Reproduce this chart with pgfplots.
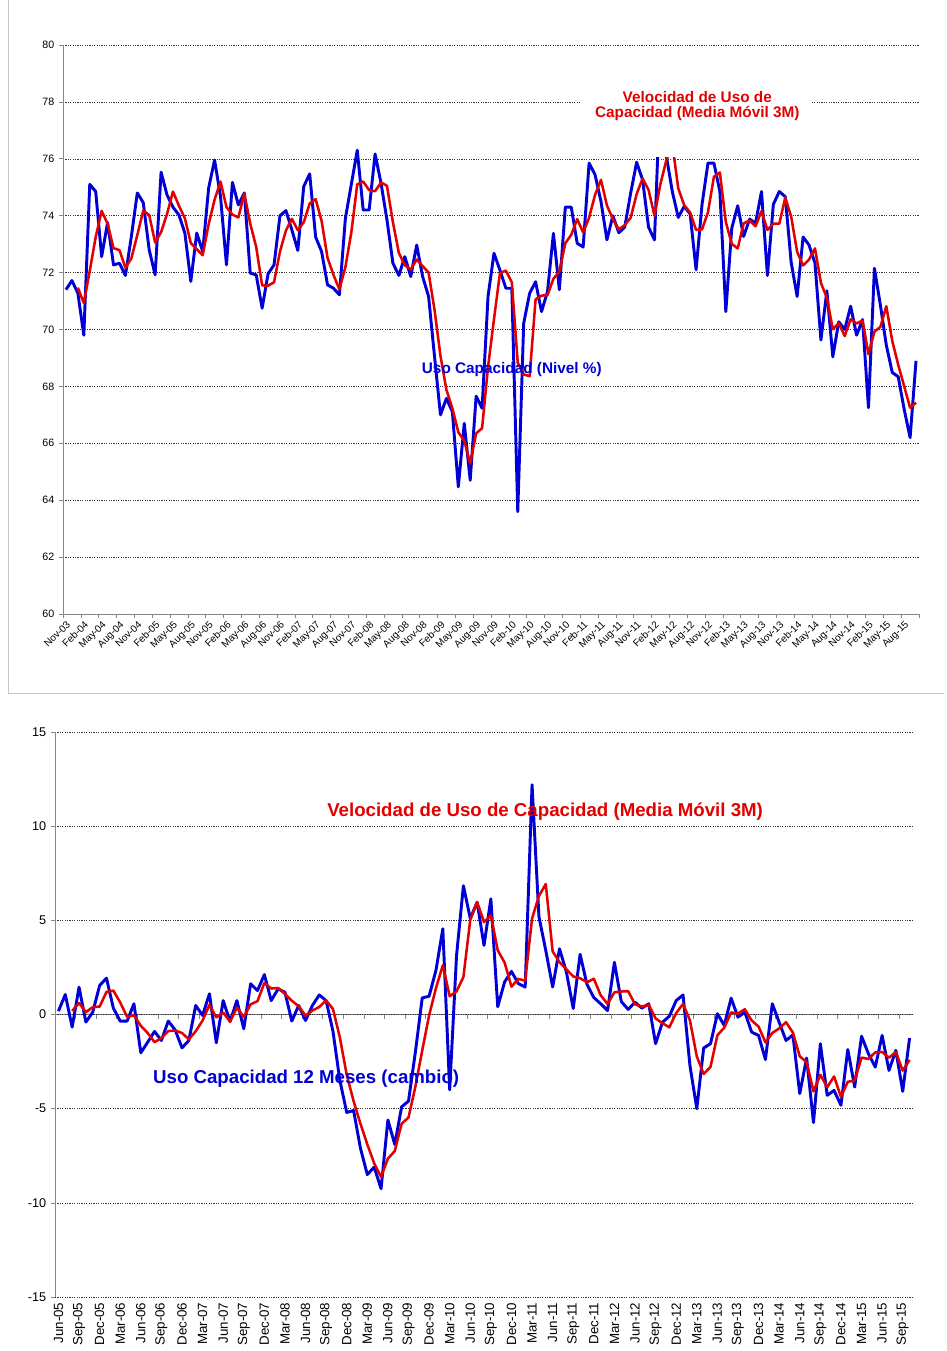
\documentclass[border=0pt]{standalone}
\usepackage{fontspec}
\setmainfont{Liberation Sans}
\usepackage{pgfplots}
\usepackage{pgfplotstable}
\pgfplotsset{compat=1.18}

\definecolor{azul}{RGB}{0,0,214}
\definecolor{rojo}{RGB}{226,0,0}
\definecolor{eje}{RGB}{134,134,134}

% uso capacidad (nivel %), nov-03 .. oct-15 ; media movil 3M
\pgfplotstableread{
uso vel
71.40 nan
71.72 nan
71.28 71.47
69.80 70.93
75.10 72.06
74.85 73.25
72.56 74.17
73.76 73.72
72.27 72.86
72.33 72.79
71.90 72.17
73.27 72.50
74.80 73.32
74.46 74.18
72.80 74.02
71.92 73.06
75.53 73.42
74.73 74.06
74.30 74.85
74.03 74.35
73.39 73.91
71.69 73.04
73.39 72.82
72.74 72.61
74.97 73.70
75.96 74.56
74.67 75.20
72.27 74.30
75.17 74.04
74.38 73.94
74.80 74.78
71.98 73.72
71.92 72.90
70.75 71.55
71.96 71.54
72.27 71.66
74.00 72.74
74.18 73.48
73.50 73.89
72.78 73.49
75.03 73.77
75.47 74.43
73.25 74.58
72.74 73.82
71.57 72.52
71.45 71.92
71.22 71.41
73.90 72.19
75.10 73.41
76.30 75.10
74.20 75.20
74.20 74.90
76.17 74.86
75.14 75.17
73.85 75.05
72.33 73.77
71.90 72.69
72.56 72.26
71.86 72.11
72.97 72.46
71.86 72.23
71.16 72.00
69.05 70.69
67.00 69.07
67.58 67.88
67.11 67.23
64.47 66.39
66.70 66.09
64.70 65.29
67.66 66.35
67.23 66.53
71.16 68.68
72.68 70.36
72.09 71.98
71.45 72.07
71.45 71.66
63.60 68.83
70.22 68.42
71.27 68.36
71.68 71.06
70.63 71.19
71.33 71.21
73.38 71.78
71.40 72.04
74.30 73.03
74.30 73.33
73.03 73.88
72.90 73.41
75.85 73.93
75.44 74.73
74.50 75.26
73.15 74.36
74.00 73.88
73.40 73.52
73.60 73.67
74.80 73.93
75.88 74.76
75.26 75.31
73.60 74.91
73.15 74.00
78.60 75.12
76.10 75.95
74.85 76.52
73.94 74.96
74.33 74.37
74.06 74.11
72.10 73.50
74.40 73.52
75.85 74.12
75.85 75.37
74.85 75.52
70.63 73.78
73.56 73.01
74.35 72.85
73.27 73.73
73.88 73.83
73.74 73.63
74.85 74.16
71.90 73.50
74.40 73.72
74.85 73.72
74.67 74.64
72.35 73.96
71.16 72.73
73.25 72.25
72.97 72.46
72.33 72.85
69.63 71.64
71.36 71.11
69.04 70.01
70.27 70.22
70.00 69.77
70.82 70.36
69.80 70.21
70.35 70.32
67.25 69.13
72.15 69.92
70.86 70.09
69.45 70.82
68.49 69.60
68.34 68.76
67.20 68.01
66.20 67.25
68.90 67.43
}\nivel

% cambio 12 meses, jun-05 .. oct-15 ; media movil 3M
\pgfplotstableread{
chg vel
0.18 nan
1.06 nan
-0.67 0.19
1.45 0.61
-0.40 0.13
0.12 0.39
1.54 0.42
1.93 1.20
0.34 1.27
-0.35 0.64
-0.35 -0.12
0.57 -0.04
-2.03 -0.60
-1.47 -0.98
-0.90 -1.47
-1.38 -1.25
-0.35 -0.88
-0.81 -0.85
-1.77 -0.98
-1.38 -1.32
0.48 -0.89
-0.05 -0.32
1.10 0.51
-1.50 -0.15
0.74 0.11
-0.37 -0.38
0.74 0.37
-0.76 -0.13
1.63 0.54
1.27 0.71
2.12 1.67
0.74 1.38
1.36 1.41
1.18 1.09
-0.35 0.73
0.48 0.44
-0.32 -0.06
0.48 0.21
1.04 0.40
0.74 0.75
-0.90 0.29
-3.50 -1.22
-5.20 -3.20
-5.10 -4.60
-7.10 -5.80
-8.50 -6.90
-8.10 -7.90
-9.25 -8.62
-5.60 -7.65
-6.90 -7.25
-4.90 -5.80
-4.60 -5.47
-2.00 -3.83
0.88 -1.91
0.97 -0.05
2.35 1.40
4.55 2.62
-4.00 0.97
3.14 1.23
6.84 1.99
5.10 5.03
5.96 5.97
3.67 4.91
6.14 5.26
0.41 3.41
1.73 2.76
2.29 1.48
1.64 1.89
1.46 1.80
12.20 5.10
5.20 6.29
3.40 6.93
1.46 3.35
3.49 2.78
2.26 2.40
0.32 2.02
3.20 1.93
1.60 1.71
0.90 1.90
0.57 1.02
0.21 0.56
2.77 1.18
0.69 1.22
0.27 1.24
0.65 0.54
0.34 0.42
0.57 0.52
-1.55 -0.21
-0.41 -0.46
-0.09 -0.68
0.74 0.08
1.04 0.56
-2.70 -0.31
-5.00 -2.22
-1.78 -3.16
-1.55 -2.78
0.04 -1.10
-0.58 -0.70
0.87 0.11
-0.14 0.05
0.12 0.28
-0.94 -0.32
-1.11 -0.64
-2.39 -1.48
0.57 -0.98
-0.41 -0.74
-1.38 -0.41
-1.08 -0.96
-4.20 -2.22
-2.31 -2.53
-5.74 -4.08
-1.55 -3.20
-4.29 -3.86
-4.03 -3.29
-4.82 -4.38
-1.86 -3.57
-3.85 -3.51
-1.15 -2.29
-2.08 -2.36
-2.79 -2.01
-1.11 -1.99
-2.97 -2.29
-1.90 -1.99
-4.08 -2.98
-1.25 -2.41
}\cambio

\pgfplotsset{
  excel/.style={
    scale only axis, anchor=south west,
    /pgf/number format/assume math mode=true,
    tick align=outside, major tick length=3pt,
    tick style={eje, line width=0.5pt},
    axis line style={eje, line width=0.6pt},
    grid style={black!80, line width=0.4pt, dash pattern=on 0.9pt off 0.9pt},
    ymajorgrids,
  },
  serie azul/.style={azul, line width=2.2pt, line join=round},
  serie roja/.style={rojo, line width=1.9pt, line join=round},
}

\begin{document}
\begin{tikzpicture}
\useasboundingbox (0pt,0pt) rectangle (709.5pt,-1013.25pt);
\draw[black!22, line width=0.6pt] (6pt,0pt) -- (6pt,-519.75pt) -- (708pt,-519.75pt);

% ---- nivel
\begin{axis}[excel,
  at={(47.25pt,-460.5pt)}, width=642pt, height=426.75pt,
  xmin=-0.5, xmax=143.5, ymin=60, ymax=80,
  axis x line*=bottom, axis y line*=left,
  ytick={60,62,...,80},
  xtick={-0.5,2.5,...,143.5},
  xticklabels={Nov-03,Feb-04,May-04,Aug-04,Nov-04,Feb-05,May-05,Aug-05,Nov-05,Feb-06,May-06,Aug-06,Nov-06,Feb-07,May-07,Aug-07,Nov-07,Feb-08,May-08,Aug-08,Nov-08,Feb-09,May-09,Aug-09,Nov-09,Feb-10,May-10,Aug-10,Nov-10,Feb-11,May-11,Aug-11,Nov-11,Feb-12,May-12,Aug-12,Nov-12,Feb-13,May-13,Aug-13,Nov-13,Feb-14,May-14,Aug-14,Nov-14,Feb-15,May-15,Aug-15,{}},
  xticklabel style={font=\fontsize{7.5}{8}\selectfont, xshift=2.2pt, rotate=45, anchor=north east, inner sep=1pt},
  yticklabel style={font=\fontsize{8}{9}\selectfont},
]
\addplot[serie azul] table[x expr=\coordindex, y=uso]{\nivel};
\addplot[serie roja] table[x expr=\coordindex, y=vel]{\nivel};
\fill[white] (axis cs:86.5,76.07) rectangle (axis cs:125.5,79.2);
\node[text=rojo, font=\bfseries\fontsize{11.5}{11}\selectfont, align=center] at (axis cs:106.2,77.85) {Velocidad de Uso de\\Capacidad (Media Móvil 3M)};
\node[text=azul, font=\bfseries\fontsize{11.5}{12}\selectfont] at (axis cs:75,68.58) {Uso Capacidad (Nivel \%)};
\end{axis}

% ---- linea del cero con sus marcas
\begin{axis}[
  at={(41.25pt,-972.75pt)}, anchor=south west, scale only axis,
  width=643.5pt, height=423.75pt,
  xmin=-0.5, xmax=124.5, ymin=-15, ymax=15,
  axis x line=middle, axis y line=none,
  axis line style={-}, x axis line style={eje, line width=0.6pt, -},
  xtick={-0.5,2.5,...,122.5}, xticklabels={}, ytick=\empty,
  tick align=outside, major tick length=3pt,
  xtick style={eje, line width=0.5pt},
]
\addplot[draw=none] coordinates {(0,0)};
\end{axis}

% ---- cambio 12 meses
\begin{axis}[excel,
  at={(41.25pt,-972.75pt)}, width=643.5pt, height=423.75pt,
  xmin=-0.5, xmax=124.5, ymin=-15, ymax=15,
  axis x line*=bottom, axis y line*=left, x axis line style={draw=none},
  ytick={-15,-10,...,15},
  xtick={-0.5,2.5,...,122.5}, xtick style={draw=none},
  xticklabels={Jun-05,Sep-05,Dec-05,Mar-06,Jun-06,Sep-06,Dec-06,Mar-07,Jun-07,Sep-07,Dec-07,Mar-08,Jun-08,Sep-08,Dec-08,Mar-09,Jun-09,Sep-09,Dec-09,Mar-10,Jun-10,Sep-10,Dec-10,Mar-11,Jun-11,Sep-11,Dec-11,Mar-12,Jun-12,Sep-12,Dec-12,Mar-13,Jun-13,Sep-13,Dec-13,Mar-14,Jun-14,Sep-14,Dec-14,Mar-15,Jun-15,Sep-15},
  xticklabel style={font=\fontsize{10}{11}\selectfont, xshift=2.57pt, rotate=90, anchor=east, inner sep=1pt},
  yticklabel style={font=\fontsize{9.5}{10}\selectfont},
]
\addplot[serie azul] table[x expr=\coordindex, y=chg]{\cambio};
\addplot[serie roja] table[x expr=\coordindex, y=vel]{\cambio};
\node[text=rojo, font=\bfseries\fontsize{14}{16}\selectfont] at (axis cs:70.9,10.76) {Velocidad de Uso de Capacidad (Media Móvil 3M)};
\node[text=azul, font=\bfseries\fontsize{14}{16}\selectfont] at (axis cs:36.1,-3.41) {Uso Capacidad 12 Meses (cambio)};
\end{axis}
\end{tikzpicture}
\end{document}
